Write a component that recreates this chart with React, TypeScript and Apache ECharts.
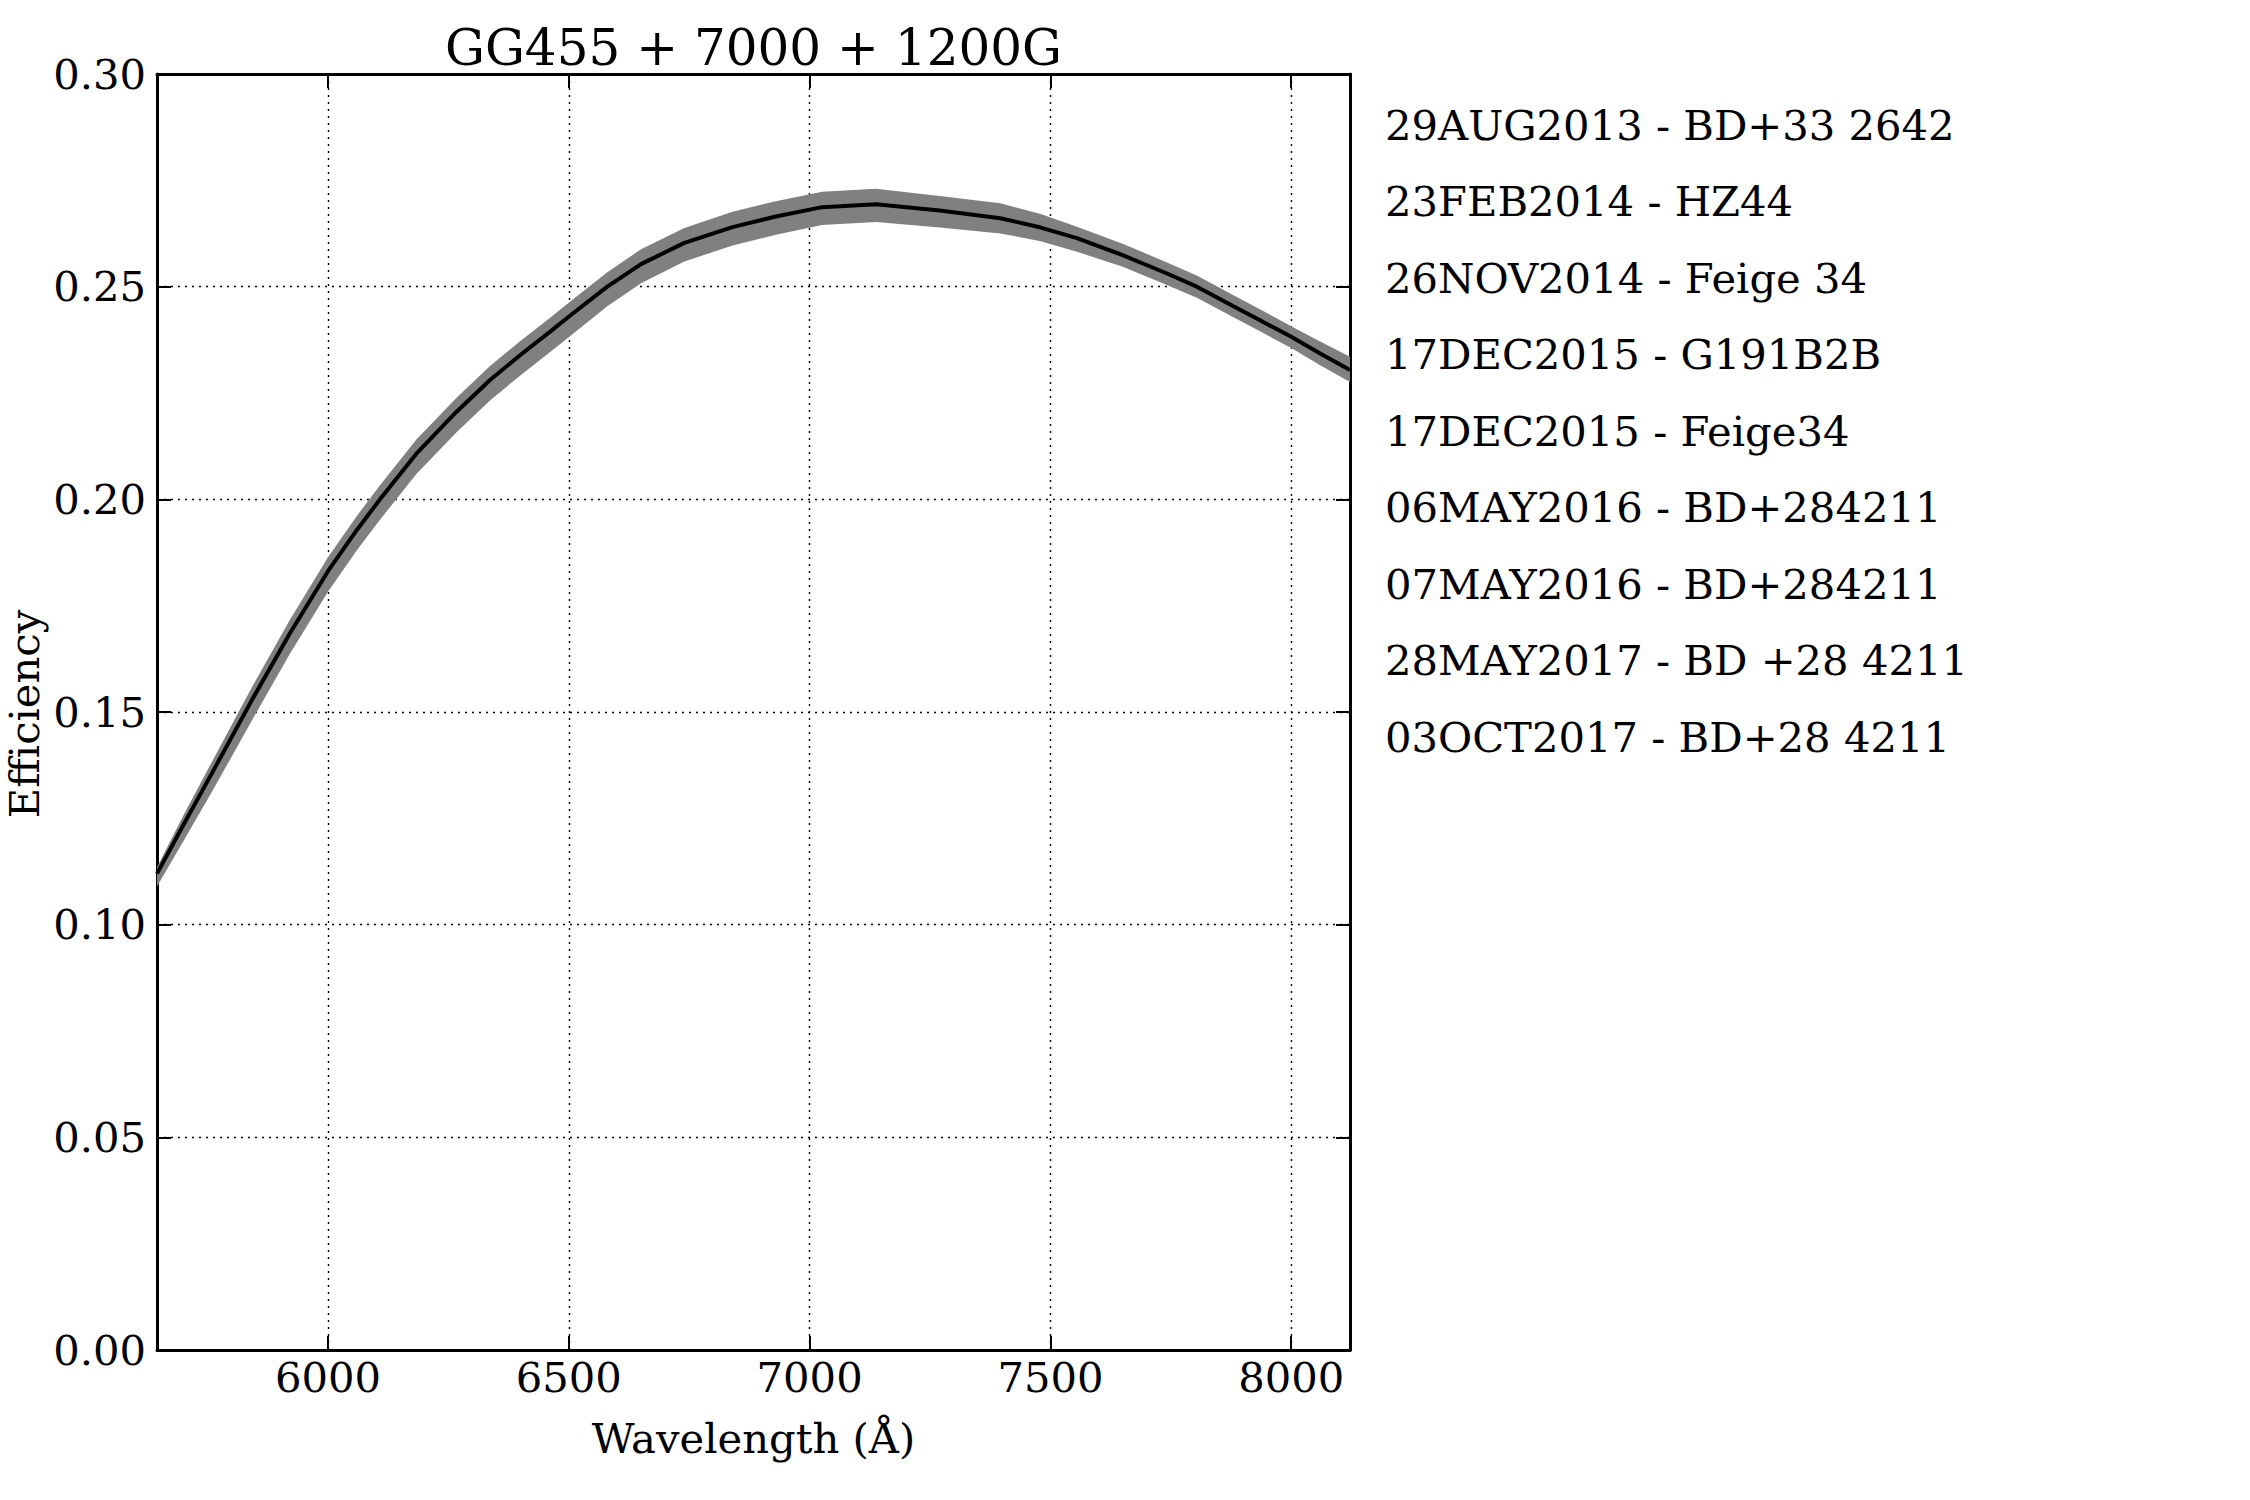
import React, { useEffect, useRef } from "react";
import * as echarts from "echarts";

const titleText = "GG455 + 7000 + 1200G";
const xAxisTitle = "Wavelength (Å)";
const yAxisTitle = "Efficiency";

const legendLabels = [
  "29AUG2013 - BD+33 2642",
  "23FEB2014 - HZ44",
  "26NOV2014 - Feige 34",
  "17DEC2015 - G191B2B",
  "17DEC2015 - Feige34",
  "06MAY2016 - BD+284211",
  "07MAY2016 - BD+284211",
  "28MAY2017 - BD +28 4211",
  "03OCT2017 - BD+28 4211",
];

const xTicks = [6000, 6500, 7000, 7500, 8000];

const wavelength = [
  5645, 5700, 5760, 5842, 5921, 6000, 6060, 6108, 6184, 6267, 6337, 6400, 6460,
  6505, 6580, 6650, 6740, 6840, 6930, 7026, 7138, 7270, 7396, 7480, 7555, 7650,
  7742, 7804, 7880, 7940, 8000, 8060, 8122,
];

const efficiency = [
  0.112, 0.1235, 0.1358, 0.1528, 0.1685, 0.1831, 0.1928, 0.2, 0.2108, 0.2206,
  0.2281, 0.234, 0.2393, 0.2434, 0.25, 0.2553, 0.2603, 0.264, 0.2665, 0.2687,
  0.2694, 0.2679, 0.2661, 0.2639, 0.2614, 0.2574, 0.2531, 0.25, 0.2454, 0.2418,
  0.2382, 0.2343, 0.2304,
];

const bandUpper = [
  0.1135, 0.1257, 0.1385, 0.1558, 0.1717, 0.1864, 0.1961, 0.2033, 0.2141,
  0.2239, 0.2314, 0.2373, 0.2426, 0.2467, 0.2534, 0.2588, 0.2638, 0.2676,
  0.2701, 0.2723, 0.273, 0.2713, 0.2696, 0.2671, 0.2641, 0.2601, 0.2557,
  0.2526, 0.248, 0.2444, 0.2407, 0.2371, 0.2335,
];

const bandLower = [
  0.109, 0.1197, 0.1314, 0.148, 0.1637, 0.1783, 0.188, 0.1952, 0.206, 0.2158,
  0.2233, 0.2292, 0.2345, 0.2386, 0.2454, 0.2508, 0.2559, 0.2597, 0.2622,
  0.2645, 0.2652, 0.2639, 0.2625, 0.2607, 0.2582, 0.2547, 0.2504, 0.2474,
  0.2428, 0.2392, 0.2356, 0.2315, 0.2276,
];

const FONT = '"DejaVu Serif", serif';
const FS = 41.7;

const GRID = { left: 157, top: 74, width: 1193, height: 1276 };

export default function App() {
  const ref = useRef<HTMLDivElement>(null);

  useEffect(() => {
    if (!ref.current) return;
    const chart = echarts.init(ref.current, undefined, { renderer: "svg" });

    const axisLine = {
      show: true,
      onZero: false,
      lineStyle: { color: "#000", width: 3 },
    };
    const tickStyle = {
      show: true,
      inside: true,
      length: 14,
      lineStyle: { color: "#000", width: 2 },
    };
    const gridLine = {
      show: true,
      lineStyle: { color: "#000", width: 1.4, type: [2, 5] as any },
    };
    const labelStyle = { color: "#000", fontFamily: FONT, fontSize: FS };

    const textEl = (
      text: string,
      x: number,
      y: number,
      size: number,
      align: string,
      rotation = 0
    ) => ({
      type: "text",
      x,
      y,
      rotation,
      silent: true,
      style: {
        text,
        fill: "#000",
        fontFamily: FONT,
        fontSize: size,
        align,
        verticalAlign: "middle",
        textAlign: align,
        textVerticalAlign: "middle",
      },
    });

    const graphics: any[] = [
      textEl(titleText, GRID.left + GRID.width / 2, 48, 50, "center"),
      textEl(xAxisTitle, GRID.left + GRID.width / 2, 1438.6, FS, "center"),
      textEl(yAxisTitle, 24.5, 714, FS, "center", Math.PI / 2),
      ...legendLabels.map((t, i) =>
        textEl(t, 1385, 125 + i * 76.5, FS, "left")
      ),
    ];

    const bandData = wavelength.map((x, i) => [x, bandLower[i], bandUpper[i]]);
    const lineData = wavelength.map((x, i) => [x, efficiency[i]]);

    chart.setOption({
      animation: false,
      grid: { ...GRID, containLabel: false },
      xAxis: [
        {
          type: "value",
          min: 5645,
          max: 8122,
          position: "bottom",
          axisLine,
          axisTick: { ...tickStyle, customValues: xTicks },
          axisLabel: {
            ...labelStyle,
            margin: 6,
            customValues: xTicks,
            formatter: (v: number) => String(v),
          },
          splitLine: gridLine,
        },
        {
          type: "value",
          min: 5645,
          max: 8122,
          position: "top",
          axisLine,
          axisTick: { ...tickStyle, customValues: xTicks },
          axisLabel: { show: false },
          splitLine: { show: false },
        },
      ],
      yAxis: [
        {
          type: "value",
          min: 0,
          max: 0.3,
          interval: 0.05,
          position: "left",
          axisLine,
          axisTick: tickStyle,
          axisLabel: {
            ...labelStyle,
            margin: 11,
            formatter: (v: number) => v.toFixed(2),
          },
          splitLine: gridLine,
        },
        {
          type: "value",
          min: 0,
          max: 0.3,
          interval: 0.05,
          position: "right",
          axisLine,
          axisTick: tickStyle,
          axisLabel: { show: false },
          splitLine: { show: false },
        },
      ],
      series: [
        {
          type: "custom",
          xAxisIndex: 0,
          yAxisIndex: 0,
          clip: true,
          silent: true,
          data: bandData,
          encode: { x: 0, y: [1, 2] },
          renderItem: (params: any, api: any) => {
            if (params.dataIndex !== 0) return null;
            const top = wavelength.map((x, i) => api.coord([x, bandUpper[i]]));
            const bot = wavelength
              .map((x, i) => api.coord([x, bandLower[i]]))
              .reverse();
            return {
              type: "polygon",
              shape: { points: top.concat(bot) },
              style: { fill: "#808080", stroke: "none" },
            };
          },
        },
        {
          type: "line",
          xAxisIndex: 0,
          yAxisIndex: 0,
          data: lineData,
          symbol: "none",
          smooth: false,
          silent: true,
          clip: true,
          lineStyle: { color: "#000", width: 4 },
          z: 5,
        },
      ],
      graphic: graphics,
    });

    return () => chart.dispose();
  }, []);

  return (
    <div
      ref={ref}
      style={{
        position: "fixed",
        left: 0,
        top: 0,
        width: 2250,
        height: 1500,
        background: "#fff",
      }}
    />
  );
}
